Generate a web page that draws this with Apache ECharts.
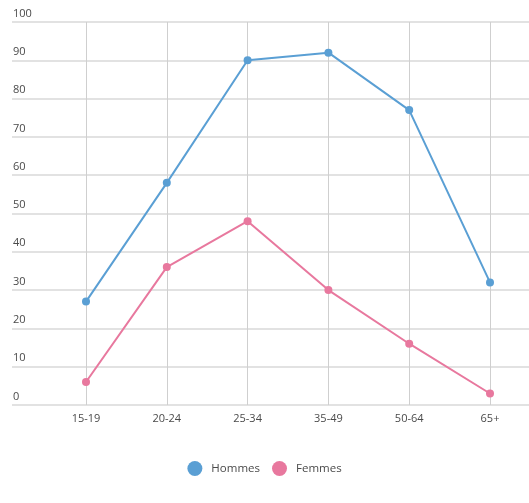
<!DOCTYPE html>
<html>
<head>
<meta charset="utf-8">
<script src="https://cdn.jsdelivr.net/npm/echarts@6/dist/echarts.min.js"></script>
<style>
  html, body { margin: 0; padding: 0; background: #fff; }
  #chart { width: 529px; height: 503px; }
</style>
</head>
<body>
<div id="chart"></div>
<script>
// Age groups and share per group (%)
const categories = ['15-19', '20-24', '25-34', '35-49', '50-64', '65+'];
const hommes = [27, 58, 90, 92, 77, 32];
const femmes = [6, 36, 48, 30, 16, 3];
const seriesNames = ['Hommes', 'Femmes'];

const BLUE = '#5a9fd4';
const PINK = '#e8789e';
const TEXT = '#4a4a4a';
const FONT = 'Open Sans';

const chart = echarts.init(document.getElementById('chart'), null, { renderer: 'canvas' });

chart.setOption({
  animation: false,
  backgroundColor: '#fff',
  textStyle: { fontFamily: FONT },
  grid: [
    // full-width background grid carrying the horizontal lines and value labels
    { left: 12, right: 0, top: 22, bottom: 98 },
    // plotting grid carrying the categories and the lines
    { left: 86, right: 39, top: 22, bottom: 98 }
  ],
  xAxis: [
    { gridIndex: 0, type: 'category', data: categories, show: false },
    {
      gridIndex: 1,
      type: 'category',
      data: categories,
      boundaryGap: false,
      axisLine: { show: false },
      axisTick: { show: false },
      axisLabel: { color: TEXT, fontSize: 11, margin: 8, fontFamily: FONT },
      splitLine: { show: true, lineStyle: { color: '#cfcfcf', width: 1 } }
    }
  ],
  yAxis: [
    {
      gridIndex: 0,
      type: 'value',
      min: 0,
      max: 100,
      interval: 10,
      axisLine: { show: false },
      axisTick: { show: false },
      axisLabel: {
        inside: true,
        margin: 1,
        color: TEXT,
        fontSize: 11,
        fontFamily: FONT,
        verticalAlign: 'bottom',
        padding: [0, 0, 3, 0]
      },
      splitLine: { show: true, lineStyle: { color: '#d8d8d8', width: 1.5 } }
    },
    { gridIndex: 1, type: 'value', min: 0, max: 100, interval: 10, show: false }
  ],
  legend: {
    bottom: 22,
    left: 'center',
    icon: 'circle',
    itemWidth: 15,
    itemHeight: 15,
    itemGap: 12,
    textStyle: { color: TEXT, fontSize: 11.5, fontFamily: FONT, padding: [0, 0, 0, 4] },
    data: seriesNames
  },
  series: [
    {
      name: seriesNames[0],
      type: 'line',
      xAxisIndex: 1,
      yAxisIndex: 1,
      data: hommes,
      color: BLUE,
      symbol: 'circle',
      symbolSize: 8,
      lineStyle: { width: 2, color: BLUE },
      itemStyle: { color: BLUE }
    },
    {
      name: seriesNames[1],
      type: 'line',
      xAxisIndex: 1,
      yAxisIndex: 1,
      data: femmes,
      color: PINK,
      symbol: 'circle',
      symbolSize: 8,
      lineStyle: { width: 2, color: PINK },
      itemStyle: { color: PINK }
    }
  ]
});
</script>
</body>
</html>
